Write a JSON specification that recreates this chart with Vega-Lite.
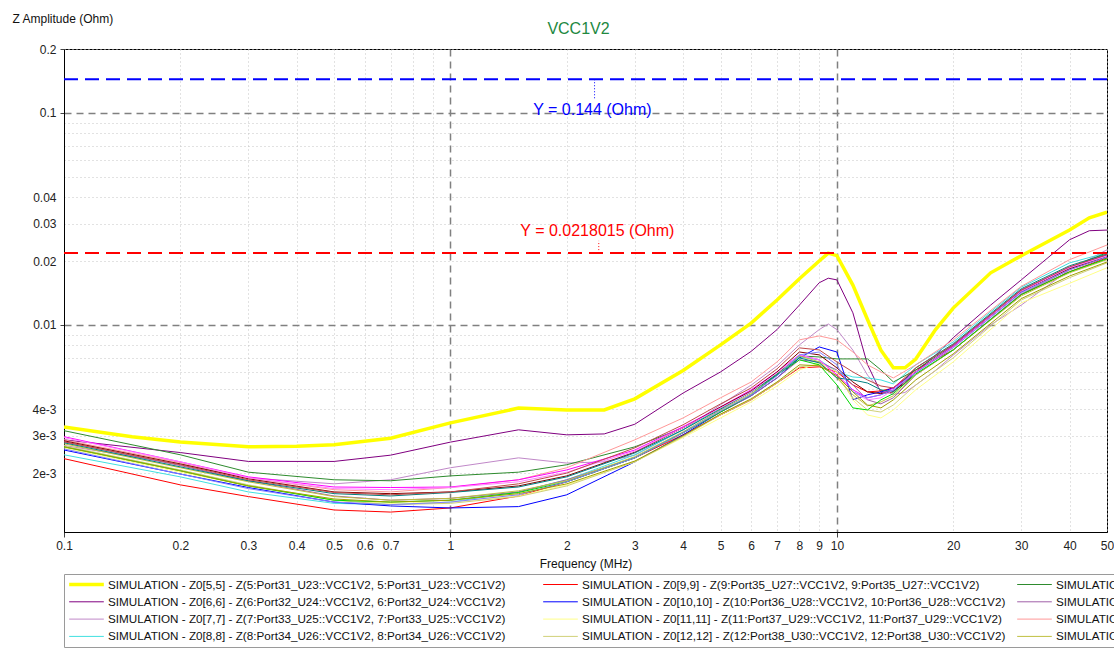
{
  "$schema": "https://vega.github.io/schema/vega-lite/v6.json",
  "width": 1043,
  "height": 483,
  "autosize": {"type": "none"},
  "padding": {"left": 64, "top": 49, "right": 7, "bottom": 129},
  "background": "#ffffff",
  "title": {"text": "VCC1V2", "font": "Liberation Sans", "fontSize": 16, "fontWeight": "normal", "color": "#22883f", "anchor": "middle", "offset": 0, "dy": 25, "dx": -7},
  "config": {
    "view": {"stroke": "#000000", "strokeWidth": 1},
    "font": "Liberation Sans"
  },
  "datasets": {
    "curves": [
      {"k":5,"f":0.1,"z":0.0033},{"k":5,"f":0.15,"z":0.00297},{"k":5,"f":0.2,"z":0.0028},{"k":5,"f":0.3,"z":0.00266},{"k":5,"f":0.4,"z":0.00268},{"k":5,"f":0.5,"z":0.00272},{"k":5,"f":0.7,"z":0.00292},{"k":5,"f":1,"z":0.00345},{"k":5,"f":1.5,"z":0.00405},{"k":5,"f":2,"z":0.00397},{"k":5,"f":2.5,"z":0.00397},{"k":5,"f":3,"z":0.00448},{"k":5,"f":4,"z":0.0061},{"k":5,"f":5,"z":0.00805},{"k":5,"f":6,"z":0.0102},{"k":5,"f":7,"z":0.0131},{"k":5,"f":8,"z":0.0165},{"k":5,"f":9,"z":0.02},{"k":5,"f":9.5,"z":0.0218},{"k":5,"f":10,"z":0.0212},{"k":5,"f":11,"z":0.0154},{"k":5,"f":12,"z":0.0106},{"k":5,"f":13,"z":0.0076},{"k":5,"f":14,"z":0.00627},{"k":5,"f":15,"z":0.00627},{"k":5,"f":16,"z":0.0069},{"k":5,"f":18,"z":0.0095},{"k":5,"f":20,"z":0.012},{"k":5,"f":25,"z":0.0176},{"k":5,"f":30,"z":0.0212},{"k":5,"f":40,"z":0.028},{"k":5,"f":45,"z":0.032},{"k":5,"f":50,"z":0.034},

      {"k":6,"f":0.1,"z":0.00287},{"k":6,"f":0.2,"z":0.0025},{"k":6,"f":0.3,"z":0.00227},{"k":6,"f":0.5,"z":0.00227},{"k":6,"f":0.7,"z":0.00243},{"k":6,"f":1,"z":0.0028},{"k":6,"f":1.5,"z":0.0032},{"k":6,"f":2,"z":0.00303},{"k":6,"f":2.5,"z":0.00306},{"k":6,"f":3,"z":0.0034},{"k":6,"f":4,"z":0.00477},{"k":6,"f":5,"z":0.006},{"k":6,"f":6,"z":0.0075},{"k":6,"f":7,"z":0.0095},{"k":6,"f":8,"z":0.0124},{"k":6,"f":9,"z":0.0158},{"k":6,"f":9.5,"z":0.0166},{"k":6,"f":10,"z":0.0163},{"k":6,"f":11,"z":0.0114},{"k":6,"f":12,"z":0.0065},{"k":6,"f":13,"z":0.0048},{"k":6,"f":14,"z":0.0049},{"k":6,"f":15,"z":0.0053},{"k":6,"f":16,"z":0.006},{"k":6,"f":18,"z":0.0072},{"k":6,"f":20,"z":0.0087},{"k":6,"f":25,"z":0.0124},{"k":6,"f":30,"z":0.0163},{"k":6,"f":40,"z":0.0252},{"k":6,"f":45,"z":0.0278},{"k":6,"f":50,"z":0.028},

      {"k":7,"f":0.1,"z":0.0027},{"k":7,"f":0.2,"z":0.0022},{"k":7,"f":0.3,"z":0.0019},{"k":7,"f":0.5,"z":0.00178},{"k":7,"f":0.7,"z":0.00186},{"k":7,"f":1,"z":0.00212},{"k":7,"f":1.5,"z":0.00236},{"k":7,"f":2,"z":0.00223},{"k":7,"f":2.5,"z":0.00226},{"k":7,"f":3,"z":0.00243},{"k":7,"f":4,"z":0.0032},{"k":7,"f":5,"z":0.0042},{"k":7,"f":6,"z":0.0052},{"k":7,"f":7,"z":0.0064},{"k":7,"f":8,"z":0.00805},{"k":7,"f":9,"z":0.0095},{"k":7,"f":9.5,"z":0.0101},{"k":7,"f":10,"z":0.0095},{"k":7,"f":11,"z":0.0076},{"k":7,"f":12,"z":0.0058},{"k":7,"f":13,"z":0.0049},{"k":7,"f":14,"z":0.0047},{"k":7,"f":15,"z":0.0048},{"k":7,"f":16,"z":0.0052},{"k":7,"f":18,"z":0.0061},{"k":7,"f":20,"z":0.0072},{"k":7,"f":25,"z":0.01},{"k":7,"f":30,"z":0.0124},{"k":7,"f":40,"z":0.0182},{"k":7,"f":50,"z":0.0226},

      {"k":8,"f":0.1,"z":0.00244},{"k":8,"f":0.2,"z":0.00192},{"k":8,"f":0.3,"z":0.00163},{"k":8,"f":0.5,"z":0.00144},{"k":8,"f":0.7,"z":0.00142},{"k":8,"f":1,"z":0.00146},{"k":8,"f":1.5,"z":0.00163},{"k":8,"f":2,"z":0.00186},{"k":8,"f":3,"z":0.00244},{"k":8,"f":4,"z":0.0032},{"k":8,"f":5,"z":0.00406},{"k":8,"f":6,"z":0.00483},{"k":8,"f":7,"z":0.00587},{"k":8,"f":8,"z":0.00706},{"k":8,"f":9,"z":0.00684},{"k":8,"f":10,"z":0.006},{"k":8,"f":11,"z":0.00568},{"k":8,"f":12,"z":0.00562},{"k":8,"f":13,"z":0.0055},{"k":8,"f":14,"z":0.00527},{"k":8,"f":16,"z":0.00648},{"k":8,"f":20,"z":0.00831},{"k":8,"f":30,"z":0.01506},{"k":8,"f":40,"z":0.0196},{"k":8,"f":50,"z":0.0219},

      {"k":9,"f":0.1,"z":0.00234},{"k":9,"f":0.2,"z":0.00176},{"k":9,"f":0.3,"z":0.00155},{"k":9,"f":0.5,"z":0.00134},{"k":9,"f":0.7,"z":0.00131},{"k":9,"f":1,"z":0.00137},{"k":9,"f":1.5,"z":0.00156},{"k":9,"f":2,"z":0.00182},{"k":9,"f":3,"z":0.00236},{"k":9,"f":4,"z":0.00303},{"k":9,"f":5,"z":0.00376},{"k":9,"f":6,"z":0.00443},{"k":9,"f":7,"z":0.00532},{"k":9,"f":8,"z":0.00627},{"k":9,"f":9,"z":0.00634},{"k":9,"f":10,"z":0.006},{"k":9,"f":11,"z":0.00521},{"k":9,"f":12,"z":0.00483},{"k":9,"f":13,"z":0.00488},{"k":9,"f":14,"z":0.00504},{"k":9,"f":16,"z":0.00613},{"k":9,"f":20,"z":0.00762},{"k":9,"f":30,"z":0.0139},{"k":9,"f":40,"z":0.0178},{"k":9,"f":50,"z":0.0207},

      {"k":10,"f":0.1,"z":0.00257},{"k":10,"f":0.2,"z":0.00198},{"k":10,"f":0.3,"z":0.00171},{"k":10,"f":0.5,"z":0.00146},{"k":10,"f":0.7,"z":0.0014},{"k":10,"f":1,"z":0.00137},{"k":10,"f":1.5,"z":0.00139},{"k":10,"f":2,"z":0.00158},{"k":10,"f":3,"z":0.00226},{"k":10,"f":4,"z":0.00303},{"k":10,"f":5,"z":0.00388},{"k":10,"f":6,"z":0.00463},{"k":10,"f":7,"z":0.00562},{"k":10,"f":8,"z":0.00699},{"k":10,"f":9,"z":0.00787},{"k":10,"f":10,"z":0.00745},{"k":10,"f":11,"z":0.00443},{"k":10,"f":12,"z":0.00468},{"k":10,"f":13,"z":0.00483},{"k":10,"f":14,"z":0.00504},{"k":10,"f":16,"z":0.006},{"k":10,"f":20,"z":0.00796},{"k":10,"f":30,"z":0.0143},{"k":10,"f":40,"z":0.0186},{"k":10,"f":50,"z":0.0214},

      {"k":11,"f":0.1,"z":0.00263},{"k":11,"f":0.2,"z":0.00202},{"k":11,"f":0.3,"z":0.00174},{"k":11,"f":0.5,"z":0.00149},{"k":11,"f":0.7,"z":0.00144},{"k":11,"f":1,"z":0.00146},{"k":11,"f":1.5,"z":0.00156},{"k":11,"f":2,"z":0.00176},{"k":11,"f":3,"z":0.00226},{"k":11,"f":4,"z":0.00294},{"k":11,"f":5,"z":0.00364},{"k":11,"f":6,"z":0.00433},{"k":11,"f":7,"z":0.00515},{"k":11,"f":8,"z":0.00613},{"k":11,"f":9,"z":0.00662},{"k":11,"f":10,"z":0.006},{"k":11,"f":11,"z":0.00443},{"k":11,"f":12,"z":0.00376},{"k":11,"f":13,"z":0.00364},{"k":11,"f":14,"z":0.00397},{"k":11,"f":16,"z":0.00494},{"k":11,"f":20,"z":0.00669},{"k":11,"f":30,"z":0.0127},{"k":11,"f":40,"z":0.0157},{"k":11,"f":50,"z":0.0186},

      {"k":12,"f":0.1,"z":0.00269},{"k":12,"f":0.2,"z":0.00207},{"k":12,"f":0.3,"z":0.00176},{"k":12,"f":0.5,"z":0.00149},{"k":12,"f":0.7,"z":0.00142},{"k":12,"f":1,"z":0.00144},{"k":12,"f":1.5,"z":0.00155},{"k":12,"f":2,"z":0.00174},{"k":12,"f":3,"z":0.00226},{"k":12,"f":4,"z":0.00297},{"k":12,"f":5,"z":0.00376},{"k":12,"f":6,"z":0.00443},{"k":12,"f":7,"z":0.00532},{"k":12,"f":8,"z":0.00634},{"k":12,"f":9,"z":0.00648},{"k":12,"f":10,"z":0.00575},{"k":12,"f":11,"z":0.00453},{"k":12,"f":12,"z":0.00397},{"k":12,"f":13,"z":0.00388},{"k":12,"f":14,"z":0.00419},{"k":12,"f":16,"z":0.00521},{"k":12,"f":20,"z":0.00699},{"k":12,"f":30,"z":0.0131},{"k":12,"f":40,"z":0.0167},{"k":12,"f":50,"z":0.0196},

      {"k":13,"f":0.1,"z":0.00317},{"k":13,"f":0.2,"z":0.00244},{"k":13,"f":0.3,"z":0.00202},{"k":13,"f":0.5,"z":0.00186},{"k":13,"f":0.7,"z":0.00184},{"k":13,"f":1,"z":0.00194},{"k":13,"f":1.5,"z":0.00202},{"k":13,"f":2,"z":0.00219},{"k":13,"f":3,"z":0.00266},{"k":13,"f":4,"z":0.00327},{"k":13,"f":5,"z":0.00406},{"k":13,"f":6,"z":0.00483},{"k":13,"f":7,"z":0.00587},{"k":13,"f":8,"z":0.00714},{"k":13,"f":9,"z":0.00706},{"k":13,"f":10,"z":0.00691},{"k":13,"f":11,"z":0.00691},{"k":13,"f":12,"z":0.00691},{"k":13,"f":13,"z":0.00613},{"k":13,"f":14,"z":0.00538},{"k":13,"f":16,"z":0.00613},{"k":13,"f":20,"z":0.00805},{"k":13,"f":30,"z":0.0146},{"k":13,"f":40,"z":0.0186},{"k":13,"f":50,"z":0.0219},

      {"k":14,"f":0.1,"z":0.00281},{"k":14,"f":0.2,"z":0.00217},{"k":14,"f":0.3,"z":0.00184},{"k":14,"f":0.5,"z":0.00156},{"k":14,"f":0.7,"z":0.00149},{"k":14,"f":1,"z":0.00152},{"k":14,"f":1.5,"z":0.00163},{"k":14,"f":2,"z":0.00186},{"k":14,"f":3,"z":0.00236},{"k":14,"f":4,"z":0.0031},{"k":14,"f":5,"z":0.00388},{"k":14,"f":6,"z":0.00463},{"k":14,"f":7,"z":0.00562},{"k":14,"f":8,"z":0.00684},{"k":14,"f":9,"z":0.00669},{"k":14,"f":10,"z":0.00613},{"k":14,"f":11,"z":0.00521},{"k":14,"f":12,"z":0.00443},{"k":14,"f":13,"z":0.00424},{"k":14,"f":14,"z":0.00453},{"k":14,"f":16,"z":0.00581},{"k":14,"f":20,"z":0.00762},{"k":14,"f":30,"z":0.014},{"k":14,"f":40,"z":0.0182},{"k":14,"f":50,"z":0.0209},

      {"k":15,"f":0.1,"z":0.00287},{"k":15,"f":0.2,"z":0.00224},{"k":15,"f":0.3,"z":0.0019},{"k":15,"f":0.5,"z":0.00167},{"k":15,"f":0.7,"z":0.00163},{"k":15,"f":1,"z":0.00171},{"k":15,"f":1.5,"z":0.00186},{"k":15,"f":2,"z":0.00212},{"k":15,"f":3,"z":0.00287},{"k":15,"f":4,"z":0.00364},{"k":15,"f":5,"z":0.00453},{"k":15,"f":6,"z":0.00538},{"k":15,"f":7,"z":0.00669},{"k":15,"f":8,"z":0.0085},{"k":15,"f":9,"z":0.00887},{"k":15,"f":10,"z":0.0085},{"k":15,"f":11,"z":0.00745},{"k":15,"f":12,"z":0.00648},{"k":15,"f":13,"z":0.006},{"k":15,"f":14,"z":0.00562},{"k":15,"f":16,"z":0.00648},{"k":15,"f":20,"z":0.0085},{"k":15,"f":30,"z":0.0152},{"k":15,"f":40,"z":0.0203},{"k":15,"f":50,"z":0.0238},

      {"k":16,"f":0.1,"z":0.00275},{"k":16,"f":0.2,"z":0.00212},{"k":16,"f":0.3,"z":0.00182},{"k":16,"f":0.5,"z":0.00155},{"k":16,"f":0.7,"z":0.00149},{"k":16,"f":1,"z":0.00152},{"k":16,"f":1.5,"z":0.00165},{"k":16,"f":2,"z":0.00184},{"k":16,"f":3,"z":0.00239},{"k":16,"f":4,"z":0.00313},{"k":16,"f":5,"z":0.00397},{"k":16,"f":6,"z":0.00474},{"k":16,"f":7,"z":0.00581},{"k":16,"f":8,"z":0.00714},{"k":16,"f":9,"z":0.00669},{"k":16,"f":10,"z":0.00562},{"k":16,"f":11,"z":0.00468},{"k":16,"f":12,"z":0.00415},{"k":16,"f":13,"z":0.00433},{"k":16,"f":14,"z":0.00463},{"k":16,"f":16,"z":0.00581},{"k":16,"f":20,"z":0.00762},{"k":16,"f":30,"z":0.0137},{"k":16,"f":40,"z":0.0176},{"k":16,"f":50,"z":0.0203},

      {"k":17,"f":0.1,"z":0.00297},{"k":17,"f":0.2,"z":0.00226},{"k":17,"f":0.3,"z":0.00192},{"k":17,"f":0.5,"z":0.00172},{"k":17,"f":0.7,"z":0.00171},{"k":17,"f":1,"z":0.00172},{"k":17,"f":1.5,"z":0.00186},{"k":17,"f":2,"z":0.00207},{"k":17,"f":3,"z":0.00257},{"k":17,"f":4,"z":0.00331},{"k":17,"f":5,"z":0.0041},{"k":17,"f":6,"z":0.00494},{"k":17,"f":7,"z":0.006},{"k":17,"f":8,"z":0.00722},{"k":17,"f":9,"z":0.00684},{"k":17,"f":10,"z":0.00581},{"k":17,"f":11,"z":0.00494},{"k":17,"f":12,"z":0.00453},{"k":17,"f":13,"z":0.00468},{"k":17,"f":14,"z":0.00504},{"k":17,"f":16,"z":0.006},{"k":17,"f":20,"z":0.00796},{"k":17,"f":30,"z":0.0146},{"k":17,"f":40,"z":0.0186},{"k":17,"f":50,"z":0.0212},

      {"k":18,"f":0.1,"z":0.00284},{"k":18,"f":0.2,"z":0.00221},{"k":18,"f":0.3,"z":0.00188},{"k":18,"f":0.5,"z":0.00163},{"k":18,"f":0.7,"z":0.0016},{"k":18,"f":1,"z":0.00163},{"k":18,"f":1.5,"z":0.00174},{"k":18,"f":2,"z":0.00194},{"k":18,"f":3,"z":0.00251},{"k":18,"f":4,"z":0.00327},{"k":18,"f":5,"z":0.0041},{"k":18,"f":6,"z":0.00488},{"k":18,"f":7,"z":0.006},{"k":18,"f":8,"z":0.00745},{"k":18,"f":9,"z":0.00722},{"k":18,"f":10,"z":0.00627},{"k":18,"f":11,"z":0.00538},{"k":18,"f":12,"z":0.00483},{"k":18,"f":13,"z":0.00474},{"k":18,"f":14,"z":0.00483},{"k":18,"f":16,"z":0.006},{"k":18,"f":20,"z":0.00787},{"k":18,"f":30,"z":0.0144},{"k":18,"f":40,"z":0.0184},{"k":18,"f":50,"z":0.0209},

      {"k":19,"f":0.1,"z":0.00266},{"k":19,"f":0.2,"z":0.00205},{"k":19,"f":0.3,"z":0.00174},{"k":19,"f":0.5,"z":0.00149},{"k":19,"f":0.7,"z":0.00146},{"k":19,"f":1,"z":0.00149},{"k":19,"f":1.5,"z":0.00162},{"k":19,"f":2,"z":0.00182},{"k":19,"f":3,"z":0.00236},{"k":19,"f":4,"z":0.0031},{"k":19,"f":5,"z":0.00388},{"k":19,"f":6,"z":0.00468},{"k":19,"f":7,"z":0.00581},{"k":19,"f":8,"z":0.00684},{"k":19,"f":9,"z":0.00648},{"k":19,"f":10,"z":0.00521},{"k":19,"f":11,"z":0.00406},{"k":19,"f":12,"z":0.00397},{"k":19,"f":13,"z":0.00443},{"k":19,"f":14,"z":0.00474},{"k":19,"f":16,"z":0.00587},{"k":19,"f":20,"z":0.00762},{"k":19,"f":30,"z":0.0139},{"k":19,"f":40,"z":0.0178},{"k":19,"f":50,"z":0.0205},

      {"k":20,"f":0.1,"z":0.00278},{"k":20,"f":0.2,"z":0.00214},{"k":20,"f":0.3,"z":0.00184},{"k":20,"f":0.5,"z":0.0016},{"k":20,"f":0.7,"z":0.00156},{"k":20,"f":1,"z":0.00162},{"k":20,"f":1.5,"z":0.00172},{"k":20,"f":2,"z":0.00192},{"k":20,"f":3,"z":0.00249},{"k":20,"f":4,"z":0.0032},{"k":20,"f":5,"z":0.00401},{"k":20,"f":6,"z":0.00483},{"k":20,"f":7,"z":0.00581},{"k":20,"f":8,"z":0.00699},{"k":20,"f":9,"z":0.00662},{"k":20,"f":10,"z":0.00562},{"k":20,"f":11,"z":0.0055},{"k":20,"f":12,"z":0.00532},{"k":20,"f":13,"z":0.00494},{"k":20,"f":14,"z":0.00483},{"k":20,"f":16,"z":0.00627},{"k":20,"f":20,"z":0.00814},{"k":20,"f":30,"z":0.0148},{"k":20,"f":40,"z":0.019},{"k":20,"f":50,"z":0.0216},

      {"k":21,"f":0.1,"z":0.00294},{"k":21,"f":0.2,"z":0.00226},{"k":21,"f":0.3,"z":0.0019},{"k":21,"f":0.5,"z":0.00169},{"k":21,"f":0.7,"z":0.00167},{"k":21,"f":1,"z":0.00171},{"k":21,"f":1.5,"z":0.00182},{"k":21,"f":2,"z":0.00202},{"k":21,"f":3,"z":0.00254},{"k":21,"f":4,"z":0.00327},{"k":21,"f":5,"z":0.00406},{"k":21,"f":6,"z":0.00483},{"k":21,"f":7,"z":0.00594},{"k":21,"f":8,"z":0.00722},{"k":21,"f":9,"z":0.00684},{"k":21,"f":10,"z":0.00575},{"k":21,"f":11,"z":0.00483},{"k":21,"f":12,"z":0.00443},{"k":21,"f":13,"z":0.00453},{"k":21,"f":14,"z":0.00494},{"k":21,"f":16,"z":0.006},{"k":21,"f":20,"z":0.00787},{"k":21,"f":30,"z":0.0144},{"k":21,"f":40,"z":0.0186},{"k":21,"f":50,"z":0.0212},

      {"k":22,"f":0.1,"z":0.0026},{"k":22,"f":0.2,"z":0.00198},{"k":22,"f":0.3,"z":0.00169},{"k":22,"f":0.5,"z":0.00146},{"k":22,"f":0.7,"z":0.00142},{"k":22,"f":1,"z":0.00146},{"k":22,"f":1.5,"z":0.00158},{"k":22,"f":2,"z":0.00182},{"k":22,"f":3,"z":0.00236},{"k":22,"f":4,"z":0.0031},{"k":22,"f":5,"z":0.00393},{"k":22,"f":6,"z":0.00468},{"k":22,"f":7,"z":0.00575},{"k":22,"f":8,"z":0.00722},{"k":22,"f":9,"z":0.00745},{"k":22,"f":10,"z":0.00648},{"k":22,"f":11,"z":0.00483},{"k":22,"f":12,"z":0.00453},{"k":22,"f":13,"z":0.00468},{"k":22,"f":14,"z":0.00494},{"k":22,"f":16,"z":0.00594},{"k":22,"f":20,"z":0.00779},{"k":22,"f":30,"z":0.0142},{"k":22,"f":40,"z":0.0182},{"k":22,"f":50,"z":0.0209},

      {"k":23,"f":0.1,"z":0.00266},{"k":23,"f":0.2,"z":0.00205},{"k":23,"f":0.3,"z":0.00174},{"k":23,"f":0.5,"z":0.00151},{"k":23,"f":0.7,"z":0.00146},{"k":23,"f":1,"z":0.00149},{"k":23,"f":1.5,"z":0.0016},{"k":23,"f":2,"z":0.00178},{"k":23,"f":3,"z":0.00228},{"k":23,"f":4,"z":0.003},{"k":23,"f":5,"z":0.0038},{"k":23,"f":6,"z":0.00448},{"k":23,"f":7,"z":0.00538},{"k":23,"f":8,"z":0.00648},{"k":23,"f":9,"z":0.00641},{"k":23,"f":10,"z":0.00575},{"k":23,"f":11,"z":0.00483},{"k":23,"f":12,"z":0.00419},{"k":23,"f":13,"z":0.00406},{"k":23,"f":14,"z":0.00443},{"k":23,"f":16,"z":0.0055},{"k":23,"f":20,"z":0.0073},{"k":23,"f":30,"z":0.0133},{"k":23,"f":40,"z":0.017},{"k":23,"f":50,"z":0.0198},

      {"k":24,"f":0.1,"z":0.00281},{"k":24,"f":0.2,"z":0.00219},{"k":24,"f":0.3,"z":0.00186},{"k":24,"f":0.5,"z":0.00162},{"k":24,"f":0.7,"z":0.00158},{"k":24,"f":1,"z":0.00163},{"k":24,"f":1.5,"z":0.00178},{"k":24,"f":2,"z":0.002},{"k":24,"f":3,"z":0.00263},{"k":24,"f":4,"z":0.00338},{"k":24,"f":5,"z":0.00424},{"k":24,"f":6,"z":0.00504},{"k":24,"f":7,"z":0.0062},{"k":24,"f":8,"z":0.00779},{"k":24,"f":9,"z":0.00762},{"k":24,"f":10,"z":0.00669},{"k":24,"f":11,"z":0.006},{"k":24,"f":12,"z":0.0055},{"k":24,"f":13,"z":0.00515},{"k":24,"f":14,"z":0.00504},{"k":24,"f":16,"z":0.00627},{"k":24,"f":20,"z":0.00805},{"k":24,"f":30,"z":0.0146},{"k":24,"f":40,"z":0.0188},{"k":24,"f":50,"z":0.0214}
    ],
    "limits": [
      {"v": 0.144, "c": "blue"},
      {"v": 0.0218015, "c": "red"}
    ],
    "limitLabels": [
      {"f": 2.33, "v": 0.144, "label": "Y = 0.144 (Ohm)", "c": "blue"},
      {"f": 2.4, "v": 0.0218015, "label": "Y = 0.0218015 (Ohm)", "c": "red"}
    ],
    "connectors": [
      {"f": 2.36, "v1": 0.144, "v2": 0.117, "c": "blue"},
      {"f": 2.42, "v1": 0.0218015, "v2": 0.0249, "c": "red"}
    ]
  },
  "layer": [
    {
      "data": {"name": "curves"},
      "mark": {"type": "line", "clip": true, "interpolate": "linear"},
      "encoding": {
        "x": {
          "field": "f", "type": "quantitative",
          "scale": {"type": "log", "domain": [0.1, 50], "nice": false},
          "axis": {
            "title": "Frequency (MHz)",
            "titleFont": "Liberation Sans", "titleFontSize": 12, "titleFontWeight": "normal", "titleColor": "#111111",
            "titleX": 521.5, "titleY": 31, "titleAlign": "center", "titleBaseline": "middle",
            "values": [0.1, 0.2, 0.3, 0.4, 0.5, 0.6, 0.7, 0.8, 0.9, 1, 2, 3, 4, 5, 6, 7, 8, 9, 10, 20, 30, 40, 50],
            "labelExpr": "datum.value == 0.8 || datum.value == 0.9 ? '' : format(datum.value, '~g')",
            "labelFont": "Liberation Sans", "labelFontSize": 12, "labelColor": "#222222",
            "labelPadding": 3, "labelOverlap": false, "labelBound": false, "labelFlush": false,
            "tickSize": 5, "tickColor": "#444444",
            "tickOpacity": {"condition": {"test": "datum.value == 0.1 || datum.value == 1 || datum.value == 10", "value": 1}, "value": 0},
            "domainColor": "#000000",
            "grid": true,
            "gridColor": {"condition": {"test": "datum.value == 1 || datum.value == 10", "value": "#808080"}, "value": "#c4c4c4"},
            "gridDash": {"condition": {"test": "datum.value == 1 || datum.value == 10", "value": [7, 5]}, "value": [1, 3]},
            "gridWidth": {"condition": {"test": "datum.value == 1 || datum.value == 10", "value": 1.5}, "value": 1}
          }
        },
        "y": {
          "field": "z", "type": "quantitative",
          "scale": {"type": "log", "domain": [0.001055, 0.2], "nice": false},
          "axis": {
            "title": "Z Amplitude (Ohm)",
            "titleFont": "Liberation Sans", "titleFontSize": 12, "titleFontWeight": "normal", "titleColor": "#111111",
            "titleAngle": 0, "titleAlign": "left", "titleBaseline": "middle", "titleX": -52, "titleY": -31,
            "values": [0.002, 0.003, 0.004, 0.005, 0.006, 0.007, 0.008, 0.009, 0.01, 0.02, 0.03, 0.04, 0.05, 0.06, 0.07, 0.08, 0.09, 0.1, 0.2],
            "labelExpr": "datum.value >= 0.01 ? (indexof([0.2, 0.1, 0.04, 0.03, 0.02, 0.01], datum.value) >= 0 ? format(datum.value, '~g') : '') : (indexof([0.004, 0.003, 0.002], datum.value) >= 0 ? format(datum.value, '.0e') : '')",
            "labelFont": "Liberation Sans", "labelFontSize": 12, "labelColor": "#222222",
            "labelPadding": 4, "labelOverlap": false, "labelBound": false, "labelFlush": false,
            "tickSize": 4, "tickColor": "#444444",
            "tickOpacity": {"condition": {"test": "datum.value == 0.1 || datum.value == 0.01 || datum.value == 0.2", "value": 1}, "value": 0},
            "domainColor": "#000000",
            "grid": true,
            "gridColor": {"condition": {"test": "datum.value == 0.1 || datum.value == 0.01", "value": "#808080"}, "value": "#c4c4c4"},
            "gridDash": {"condition": {"test": "datum.value == 0.1 || datum.value == 0.01", "value": [7, 5]}, "value": [1, 3]},
            "gridWidth": {"condition": {"test": "datum.value == 0.1 || datum.value == 0.01", "value": 1.5}, "value": 1}
          }
        },
        "color": {
          "field": "k", "type": "nominal",
          "scale": {
            "domain": [5, 6, 7, 8, 9, 10, 11, 12, 13, 14, 15, 16, 17, 18, 19, 20, 21, 22, 23, 24],
            "range": ["#ffff00", "#800080", "#c088c8", "#40e0e0",
                      "#ff0000", "#0000ff", "#ffff88", "#d0d078",
                      "#2e8b2e", "#a060a8", "#ff9898", "#c0c040",
                      "#ff00ff", "#800000", "#00d800", "#008080",
                      "#ff80ff", "#8080ff", "#a0a000", "#c04848"]
          },
          "legend": {
            "orient": "none", "legendX": 0, "legendY": 525, "columns": 5, "title": null,
            "labelExpr": "'SIMULATION - Z0[' + datum.label + ',' + datum.label + '] - Z(' + datum.label + ':Port' + (toNumber(datum.label) + 26) + '_U' + (toNumber(datum.label) + 18) + '::VCC1V2, ' + datum.label + ':Port' + (toNumber(datum.label) + 26) + '_U' + (toNumber(datum.label) + 18) + '::VCC1V2)'",
            "symbolType": "stroke", "symbolSize": 1200,
            "labelFont": "Liberation Sans", "labelFontSize": 11.7, "labelColor": "#111111", "labelLimit": 0, "labelOffset": 2,
            "clipHeight": 15, "rowPadding": 2.3, "columnPadding": 9, "gridAlign": "all",
            "padding": 3, "strokeColor": "#9a9a9a", "fillColor": "#ffffff"
          }
        },
        "strokeWidth": {
          "field": "k", "type": "nominal",
          "scale": {
            "type": "ordinal",
            "domain": [5, 6, 7, 8, 9, 10, 11, 12, 13, 14, 15, 16, 17, 18, 19, 20, 21, 22, 23, 24],
            "range": [3.5, 1, 1, 1, 1, 1, 1, 1, 1, 1, 1, 1, 1, 1, 1, 1, 1, 1, 1, 1]
          },
          "legend": {
            "orient": "none", "legendX": 0, "legendY": 525, "columns": 5, "title": null,
            "labelExpr": "'SIMULATION - Z0[' + datum.label + ',' + datum.label + '] - Z(' + datum.label + ':Port' + (toNumber(datum.label) + 26) + '_U' + (toNumber(datum.label) + 18) + '::VCC1V2, ' + datum.label + ':Port' + (toNumber(datum.label) + 26) + '_U' + (toNumber(datum.label) + 18) + '::VCC1V2)'",
            "symbolType": "stroke", "symbolSize": 1200,
            "labelFont": "Liberation Sans", "labelFontSize": 11.7, "labelColor": "#111111", "labelLimit": 0, "labelOffset": 2,
            "clipHeight": 15, "rowPadding": 2.3, "columnPadding": 9, "gridAlign": "all",
            "padding": 3, "strokeColor": "#9a9a9a", "fillColor": "#ffffff"
          }
        }
      }
    },
    {
      "data": {"name": "limits"},
      "mark": {"type": "rule", "strokeDash": [14, 7], "strokeWidth": 2},
      "encoding": {
        "y": {"field": "v", "type": "quantitative"},
        "stroke": {"field": "c", "type": "nominal", "scale": {"domain": ["blue", "red"], "range": ["#0000ff", "#ff0000"]}, "legend": null}
      }
    },
    {
      "data": {"name": "connectors"},
      "mark": {"type": "rule", "strokeDash": [1, 2], "strokeWidth": 1},
      "encoding": {
        "x": {"field": "f", "type": "quantitative"},
        "y": {"field": "v1", "type": "quantitative"},
        "y2": {"field": "v2"},
        "stroke": {"field": "c", "type": "nominal", "scale": {"domain": ["blue", "red"], "range": ["#0000ff", "#ff0000"]}, "legend": null}
      }
    },
    {
      "data": {"name": "limitLabels"},
      "transform": [{"filter": "datum.c == 'blue'"}],
      "mark": {"type": "text", "font": "Liberation Sans", "fontSize": 16, "fill": "#0000ff", "align": "center", "baseline": "middle", "dy": 31},
      "encoding": {
        "x": {"field": "f", "type": "quantitative"},
        "y": {"field": "v", "type": "quantitative"},
        "text": {"field": "label"}
      }
    },
    {
      "data": {"name": "limitLabels"},
      "transform": [{"filter": "datum.c == 'red'"}],
      "mark": {"type": "text", "font": "Liberation Sans", "fontSize": 16, "fill": "#ff0000", "align": "center", "baseline": "middle", "dy": -22},
      "encoding": {
        "x": {"field": "f", "type": "quantitative"},
        "y": {"field": "v", "type": "quantitative"},
        "text": {"field": "label"}
      }
    }
  ]
}
